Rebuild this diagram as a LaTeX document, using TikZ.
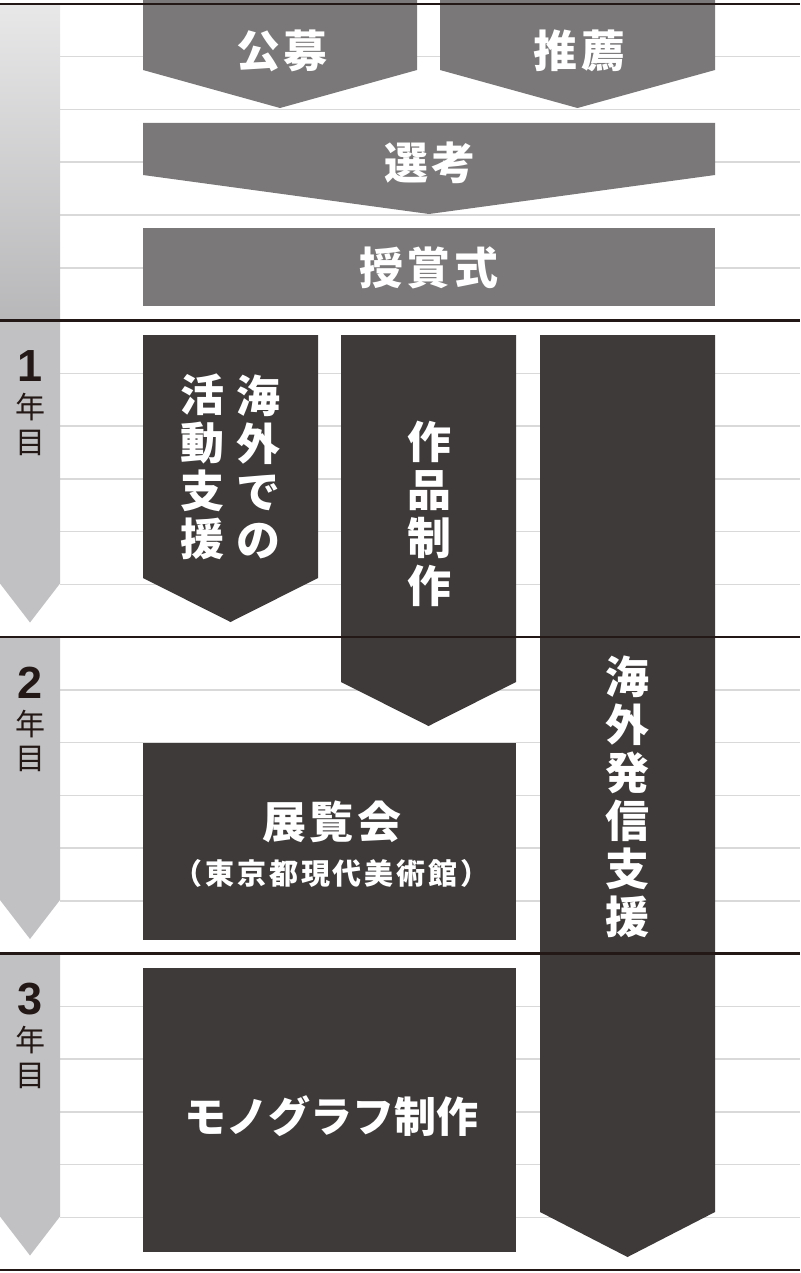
\documentclass[tikz,border=0pt]{standalone}
\usepackage{fontspec}
\setmainfont{Liberation Sans}
\newfontfamily\jpfont{Noto Sans CJK JP}
\newfontfamily\jpwide{Noto Sans CJK JP}[LetterSpace=9]
\newfontfamily\jpsub{Noto Sans CJK JP}[LetterSpace=10]
\usetikzlibrary{positioning}

\definecolor{boxgray}{HTML}{7A7879}
\definecolor{boxdark}{HTML}{3E3A3A}
\definecolor{bargray}{HTML}{C1C1C3}
\definecolor{barlight}{HTML}{E8E8E9}
\definecolor{rulegray}{HTML}{D9D9DA}
\definecolor{ruleblack}{HTML}{231815}

\begin{document}
\begin{tikzpicture}[x=1pt,y=-1pt,
    lightbox/.style={fill=boxgray},
    darkbox/.style={fill=boxdark},
    boxlabel/.style={text=white,inner sep=0pt,align=center,font=\jpfont\bfseries\fontsize{44}{48}\selectfont},
    widelabel/.style={boxlabel,xshift=2pt,font=\jpwide\bfseries\fontsize{44}{48}\selectfont},
    sublabel/.style={boxlabel,xshift=1.5pt,font=\jpsub\bfseries\fontsize{29}{29}\selectfont},
    yearnum/.style={inner sep=0pt,text=ruleblack,font=\bfseries\fontsize{45}{45}\selectfont},
    yearchar/.style={inner sep=0pt,text=ruleblack,font=\jpfont\fontsize{30}{30}\selectfont}]
        \pgfmathsetmacro{\rowh}{316.5} % height of one band
        \pgfmathsetmacro{\lineh}{\rowh/6} % gap of the thin rules
        \useasboundingbox (0,0) rectangle (800,1273);
        % thin rules
        \foreach \s in {0,...,3}
            \foreach \k in {1,...,5}
                \draw[rulegray,line width=1.5pt] (60,{4+\rowh*\s+\lineh*\k}) -- (800,{4+\rowh*\s+\lineh*\k});
        % time bar
        \shade[top color=barlight,bottom color=bargray!95!black] (0,4) rectangle (60,{4+\rowh});
        \foreach \n in {1,2,3} {
            \pgfmathsetmacro{\ytop}{4+\rowh*\n}
            \fill[bargray] (0,\ytop) -- (60,\ytop) -- (60,\ytop+263) -- (30,\ytop+302) -- (0,\ytop+263) -- cycle;
            \node[yearnum] (year\n) at (30,\ytop+46) {\n};
            \node[yearchar] (nen\n) at (30,\ytop+87) {年};
            \node[yearchar] (me\n) at (30,\ytop+122) {目};
        }
        % selection
        \fill[lightbox] (143,0) -- (417,0) -- (417,70) -- (280,108) -- (143,70) -- cycle;
        \node[widelabel] (koubo) at (280,51) {公募};
        \fill[lightbox] (440,0) -- (715,0) -- (715,70) -- (577.5,108) -- (440,70) -- cycle;
        \node[widelabel] (suisen) at (577.5,51) {推薦};
        \fill[lightbox] (143,123) -- (715,123) -- (715,175) -- (429,214) -- (143,175) -- cycle;
        \node[widelabel] (senkou) at (428,163) {選考};
        \fill[lightbox] (143,228) rectangle (715,306);
        \node[widelabel] (jushou) at (427,268) {授賞式};
        % support
        \fill[darkbox] (143,335) -- (318,335) -- (318,578) -- (230.5,622) -- (143,578) -- cycle;
        \node[boxlabel] (kaigai) at (258,467) {海\\外\\で\\の};
        \node[boxlabel] (katsudou) at (202,467) {活\\動\\支\\援};
        \fill[darkbox] (341,335) -- (516,335) -- (516,682) -- (428.5,726) -- (341,682) -- cycle;
        \node[boxlabel] (sakuhin) at (429,514) {作\\品\\制\\作};
        \fill[darkbox] (540,335) -- (715,335) -- (715,1212) -- (627.5,1257) -- (540,1212) -- cycle;
        \node[boxlabel] (hasshin) at (627,797) {海\\外\\発\\信\\支\\援};
        \fill[darkbox] (143,743) rectangle (516,940);
        \node[widelabel] (tenrankai) at (330,822) {展覧会};
        \node[sublabel] (mot) at (330,873) {（東京都現代美術館）};
        \fill[darkbox] (143,968) rectangle (516,1252);
        \node[boxlabel,font=\jpfont\bfseries\fontsize{42}{42}\selectfont] (monograph) at (331,1116) {モノグラフ制作};
        % year rules
        \foreach \s in {0,...,4}
            \draw[ruleblack,line width=2.5pt] (0,{4+\rowh*\s}) -- (800,{4+\rowh*\s});
    \end{tikzpicture}
\end{document}
